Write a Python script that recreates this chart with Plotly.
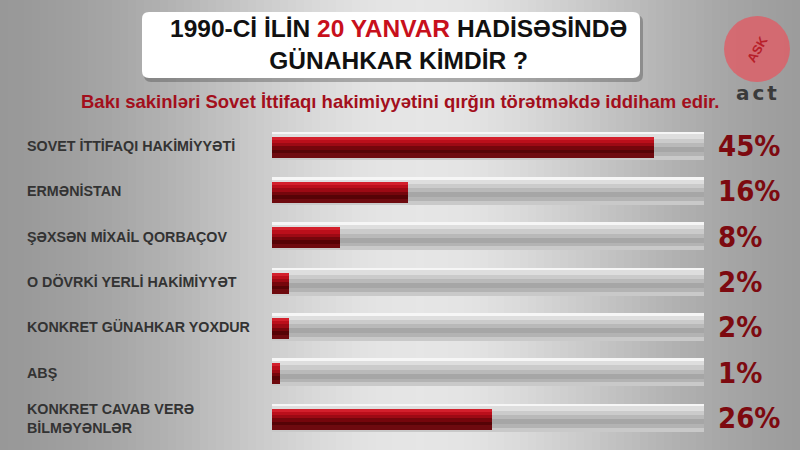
import math
import plotly.graph_objects as go

# ---------------- data ----------------
categories = [
    "SOVET İTTİFAQI HAKİMİYYƏTİ",
    "ERMƏNİSTAN",
    "ŞƏXSƏN MİXAİL QORBAÇOV",
    "O DÖVRKİ YERLİ HAKİMİYYƏT",
    "KONKRET GÜNAHKAR YOXDUR",
    "ABŞ",
    "KONKRET CAVAB VERƏ<br>BİLMƏYƏNLƏR",
]
values = [45, 16, 8, 2, 2, 1, 26]
title_parts = ["1990-Cİ İLİN ", "20 YANVAR", " HADİSƏSİNDƏ", "GÜNAHKAR KİMDİR ?"]
subtitle = "Bakı sakinləri Sovet İttifaqı hakimiyyətini qırğın törətməkdə iddiham edir."
logo_text = "act"

AXIS_MAX = 51
W, H = 800, 450

positions = list(range(len(categories)))

fig = go.Figure()

# ---------- styles ----------
track_off, track_h = -0.309, 0.618
red_off, red_h = -0.20, 0.465
track_stripes = [(0, 0.1, '#f6f6f6'), (0.1, 0.25, '#dedede'), (0.25, 0.4, '#cbcbcb'),
                 (0.4, 0.55, '#b9b9b9'), (0.55, 0.72, '#a6a6a6'), (0.72, 0.86, '#b3b3b3'),
                 (0.86, 1.0, '#c9c9c9')]
red_stripes = [(0, 0.14, '#d3202c'), (0.14, 0.3, '#bb0f1b'), (0.3, 0.46, '#9c0a14'),
               (0.46, 0.62, '#75060c'), (0.62, 0.8, '#560306'), (0.8, 1.0, '#6e0a0f')]

for f0, f1, col in track_stripes:
    fig.add_trace(go.Bar(
        x=[AXIS_MAX] * len(positions), y=positions, orientation='h', base=0,
        offset=track_off + f0 * track_h, width=(f1 - f0) * track_h + 0.003,
        marker=dict(color=col, line=dict(width=0)), hoverinfo='skip', showlegend=False))

for f0, f1, col in red_stripes:
    fig.add_trace(go.Bar(
        x=values, y=positions, orientation='h', base=0,
        offset=red_off + f0 * red_h, width=(f1 - f0) * red_h + 0.003,
        marker=dict(color=col, line=dict(width=0)), hoverinfo='skip', showlegend=False))

# ---------- background gradient ----------
shapes = []
N = 100
for i in range(N):
    xc = (i + 0.5) / N * W
    v = int(146 + 84 * math.exp(-((xc - 420) / 260) ** 2))
    shapes.append(dict(type='rect', xref='paper', yref='paper', layer='below',
                       x0=i / N, x1=(i + 1) / N + 0.002, y0=0, y1=1,
                       fillcolor=f'rgb({v},{v},{v})', line=dict(width=0)))

# title box with rounded corners (paper coords)
def rounded_rect(x0, y0, x1, y1, r):
    rx, ry = r / W, r / H
    X0, X1 = x0 / W, x1 / W
    Y0, Y1 = 1 - y1 / H, 1 - y0 / H
    return (f"M {X0+rx},{Y0} L {X1-rx},{Y0} Q {X1},{Y0} {X1},{Y0+ry} "
            f"L {X1},{Y1-ry} Q {X1},{Y1} {X1-rx},{Y1} L {X0+rx},{Y1} "
            f"Q {X0},{Y1} {X0},{Y1-ry} L {X0},{Y0+ry} Q {X0},{Y0} {X0+rx},{Y0} Z")

shapes.append(dict(type='path', xref='paper', yref='paper', layer='below',
                   path=rounded_rect(144, 15, 643, 82, 7),
                   fillcolor='rgba(60,60,60,0.35)', line=dict(width=0)))
shapes.append(dict(type='path', xref='paper', yref='paper', layer='below',
                   path=rounded_rect(142, 12, 640, 78, 7),
                   fillcolor='#ffffff', line=dict(width=0)))

# logo circle
shapes.append(dict(type='circle', xref='paper', yref='paper', layer='above',
                   x0=724 / W, x1=790 / W, y0=1 - 82 / H, y1=1 - 16 / H,
                   fillcolor='#dc6068', line=dict(width=0), opacity=0.85))

annotations = []
font_main = "Liberation Sans, Arial, sans-serif"

# title
annotations.append(dict(
    xref='paper', yref='paper', x=398 / W, y=1 - 45 / H, xanchor='center', yanchor='middle',
    text=(f"<b>{title_parts[0]}<span style='color:#c8101c'>{title_parts[1]}</span>"
          f"{title_parts[2]}<br>{title_parts[3]}</b>"),
    showarrow=False, font=dict(family=font_main, size=24.5, color='#111111'), align='center'))

# subtitle
annotations.append(dict(
    xref='paper', yref='paper', x=400 / W, y=1 - 101 / H, xanchor='center', yanchor='middle',
    text=f"<b>{subtitle}</b>", showarrow=False,
    font=dict(family=font_main, size=18.5, color='#a30f1c')))

# logo text
annotations.append(dict(
    xref='paper', yref='paper', x=758 / W, y=1 - 93 / H, xanchor='center', yanchor='middle',
    text=f"<b><span style='letter-spacing:3px'>{logo_text}</span></b>", showarrow=False,
    font=dict(family="DejaVu Sans, sans-serif", size=20, color='#3a3a3a')))
annotations.append(dict(
    xref='paper', yref='paper', x=757 / W, y=1 - 49 / H, xanchor='center', yanchor='middle',
    text="<b>ASK</b>", showarrow=False, textangle=-60,
    font=dict(family=font_main, size=13, color='#b8202a')))

# category labels and percentages
for pos, cat, val in zip(positions, categories, values):
    annotations.append(dict(
        xref='paper', yref='y', x=25 / W, y=pos, xanchor='left', yanchor='middle',
        text=f"<b>{cat}</b>", showarrow=False, align='left',
        font=dict(family=font_main, size=14.3, color='#333333')))
    annotations.append(dict(
        xref='paper', yref='y', x=716 / W, y=pos, xanchor='left', yanchor='middle',
        text=f"<b>{val}%</b>", showarrow=False,
        font=dict(family="DejaVu Sans Condensed, DejaVu Sans, sans-serif", size=29,
                  color='#7d0a10')))

fig.update_layout(
    width=W, height=H,
    margin=dict(l=0, r=0, t=0, b=0),
    paper_bgcolor='#c8c8c8', plot_bgcolor='rgba(0,0,0,0)',
    barmode='overlay', bargap=0,
    showlegend=False, hovermode=False,
    xaxis=dict(domain=[271.5 / W, 704 / W], range=[0, AXIS_MAX], visible=False, fixedrange=True),
    yaxis=dict(domain=[1 - 440.67 / H, 1 - 123.33 / H], range=[6.5, -0.5], visible=False,
               fixedrange=True),
    shapes=shapes, annotations=annotations,
)

fig.write_html("out.html", config=dict(displayModeBar=False),
               post_script="document.body.style.margin='0';document.body.style.overflow='hidden';")
